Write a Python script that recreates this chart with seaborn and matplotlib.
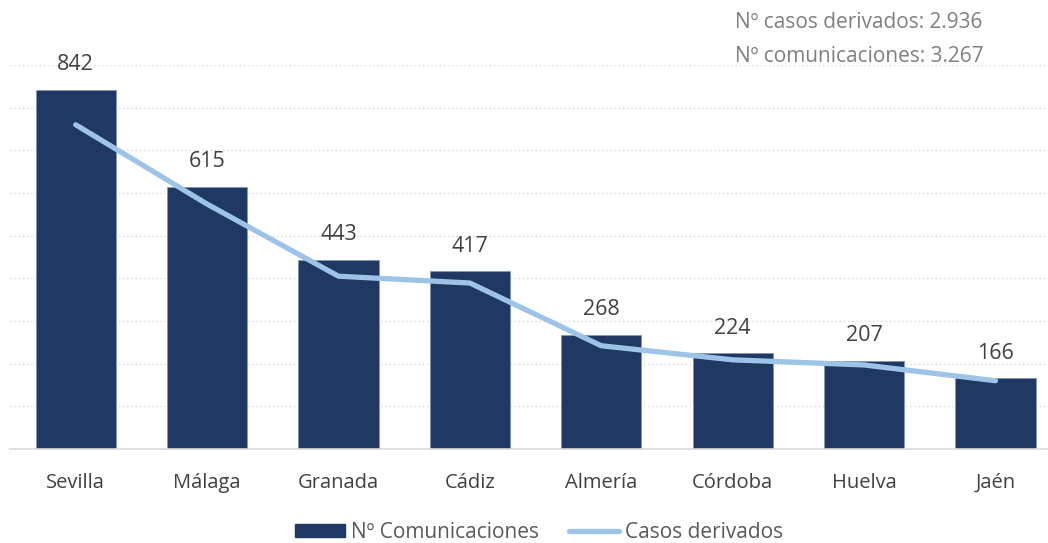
import pandas as pd
import numpy as np
import matplotlib
matplotlib.use('Agg')
import matplotlib.pyplot as plt
import seaborn as sns
from matplotlib.patches import Patch
from matplotlib.lines import Line2D

# datos
provincias = ['Sevilla', 'Málaga', 'Granada', 'Cádiz', 'Almería', 'Córdoba', 'Huelva', 'Jaén']
comunicaciones = [842, 615, 443, 417, 268, 224, 207, 166]
casos_derivados = [760, 574, 405, 389, 242, 209, 197, 160]
total_casos = '2.936'
total_comunicaciones = '3.267'

sns.set_theme(style='white')
plt.rcParams['font.family'] = ['Open Sans', 'DejaVu Sans']

df = pd.DataFrame({'provincia': provincias,
                   'comunicaciones': comunicaciones,
                   'casos': casos_derivados})
df['pos'] = np.arange(len(df))

fig = plt.figure(figsize=(10.48, 5.43), dpi=100)
ax = fig.add_axes([10 / 1048, 94 / 543, 1038 / 1048, 384 / 543])

color_barra = '#1f3864'
color_linea = '#9dc3e6'

sns.barplot(data=df, x='provincia', y='comunicaciones', color=color_barra,
            width=0.61, saturation=1, edgecolor='#8497b0', linewidth=0.6, ax=ax)
sns.lineplot(data=df, x='pos', y='casos', color=color_linea, linewidth=3.8,
             ax=ax, solid_capstyle='round')

# etiquetas de valores
for i, v in enumerate(comunicaciones):
    ax.text(i, v + 34, str(v), ha='center', va='bottom', fontsize=15.5,
            color='#404040', clip_on=False)

ax.set_xlim(-0.5, 7.4)
ax.set_ylim(0, 900)
ax.set_yticks(np.arange(100, 901, 100))
ax.set_yticklabels([])
ax.yaxis.grid(True, linestyle=(0, (1, 2)), color='#d9d9d9', linewidth=1)
ax.set_axisbelow(True)
ax.tick_params(axis='y', length=0)
ax.tick_params(axis='x', length=0, pad=17, labelsize=14.5, labelcolor='#404040')
ax.set_xlabel('')
ax.set_ylabel('')
for s in ['top', 'right', 'left']:
    ax.spines[s].set_visible(False)
ax.spines['bottom'].set_color('#d9d9d9')
ax.spines['bottom'].set_linewidth(1.2)

# totales
fig.text(735 / 1048, 1 - 22 / 543, f'Nº casos derivados: {total_casos}', ha='left',
         va='center', fontsize=15, color='#7f7f7f')
fig.text(735 / 1048, 1 - 56 / 543, f'Nº comunicaciones: {total_comunicaciones}', ha='left',
         va='center', fontsize=15, color='#7f7f7f')

# leyenda
handles = [Patch(facecolor=color_barra, edgecolor=color_barra, label='Nº Comunicaciones'),
           Line2D([0], [0], color=color_linea, linewidth=3.8, solid_capstyle='round',
                  label='Casos derivados')]
fig.legend(handles=handles, loc='center', bbox_to_anchor=(539 / 1048, 1 - 532 / 543),
           ncol=2, frameon=False, fontsize=15, labelcolor='#595959',
           handlelength=2.4, handleheight=0.6, handletextpad=0.3, columnspacing=1.4)

fig.savefig('out.png', dpi=100)
